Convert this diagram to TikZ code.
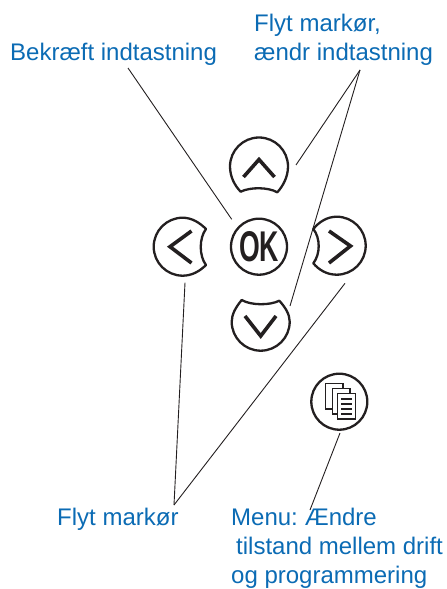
\documentclass[tikz,border=0pt]{standalone}
\usepackage{fontspec}
\setmainfont{Liberation Sans}
\definecolor{lab}{HTML}{0B6BB4}
\definecolor{ink}{HTML}{231F20}
\tikzset{
  lbl/.style={text=lab,font=\fontsize{24}{28}\selectfont,anchor=base west,inner sep=0pt},
  btn/.style={draw=ink,line width=2.3pt,fill=white,line join=round},
  sym/.style={draw=ink,line width=3.6pt,line cap=butt,line join=miter},
  ptr/.style={draw=ink,line width=0.9pt},
  pageicon/.style={draw=ink,line width=1.9pt,fill=white}
}
\begin{document}
\begin{tikzpicture}[x=1pt,y=-1pt]
\useasboundingbox (0,0) rectangle (447,589);
% buttons
\draw[btn] (240.7,191.7) .. controls (250,187) and (268,187) .. (277.3,192.3)
  .. controls (283,186) and (288,177) .. (288,166.5) arc[start angle=0,end angle=-180,radius=29]
  .. controls (230,177) and (235,186) .. cycle;
\draw[sym] (243.5,177) -- (259,159.5) -- (274.5,177);
\draw[btn] (241.7,300) .. controls (251,305.5) and (270,305.5) .. (279.3,300.7)
  .. controls (285,307) and (289.7,314) .. (289.7,321.7) arc[start angle=0,end angle=180,radius=29]
  .. controls (231.7,314) and (236,307) .. cycle;
\draw[sym] (245,316) -- (260.7,336) -- (276,316);
\draw[btn] (206,229) .. controls (199,238) and (199,256) .. (206,265)
  .. controls (200,271) and (192,275.7) .. (182.7,275.7) arc[start angle=90,end angle=270,radius=29]
  .. controls (192,217.7) and (200,223) .. cycle;
\draw[sym] (191.5,231) -- (170,246.7) -- (191.5,263);
\draw[btn] (313.3,229) .. controls (320.5,238) and (320.5,254) .. (313.3,263.3)
  .. controls (319,270) and (327,274.7) .. (336.7,274.7) arc[start angle=90,end angle=-90,radius=29]
  .. controls (327,216.7) and (319,222) .. cycle;
\draw[sym] (329,231) -- (350.5,246) -- (329,263);
\node[circle,btn,minimum size=56pt,inner sep=0pt] (ok) at (259,246.7) {};
\node[inner sep=0pt,text=ink] (oktext) at (259,246.7) {\fontsize{43}{43}\selectfont\bfseries\addfontfeatures{FakeStretch=0.62}OK};
\node[circle,btn,minimum size=56pt,inner sep=0pt] (menu) at (339.3,401.7) {};
\draw[pageicon] (325.5,383.5) rectangle (343,409);
\draw[pageicon] (332.5,388.5) rectangle (350,414);
\draw[pageicon] (337.5,393.5) rectangle (355.5,419);
\foreach \yy in {399,404,409,414}{\draw[draw=ink,line width=1.6pt] (341,\yy) -- (352,\yy);}
% anchors
\coordinate (cb) at (128,68);
\coordinate (ck) at (231.7,219.3);
\coordinate (cf) at (360,70);
\coordinate (cu) at (296,165);
\coordinate (cd) at (290,306);
\coordinate (cm) at (174,505);
\coordinate (cl) at (185,282.7);
\coordinate (cr) at (345,283.3);
\coordinate (cp) at (340,433);
\coordinate (cq) at (310,510);
\draw[ptr] (cb) -- (ck);
\draw[ptr] (cf) -- (cu);
\draw[ptr] (cf) -- (cd);
\draw[ptr] (cm) -- (cl);
\draw[ptr] (cm) -- (cr);
\draw[ptr] (cp) -- (cq);
% labels
\node[lbl] (t1) at (10,60) {Bekræft indtastning};
\node[lbl] (t2) at (254,31) {Flyt markør,};
\node[lbl] (t3) at (254,60) {ændr indtastning};
\node[lbl] (t4) at (57,525) {Flyt markør};
\node[lbl] (t5) at (231,525) {Menu:\hspace{-2pt} Ændre};
\node[lbl] (t6) at (236,554) {tilstand mellem drift};
\node[lbl] (t7) at (231,583) {og programmering};
\end{tikzpicture}
\end{document}
